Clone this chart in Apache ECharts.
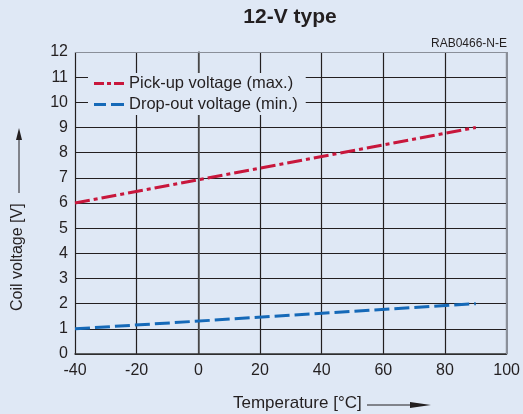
<!DOCTYPE html>
<html><head><meta charset="utf-8">
<script src="https://cdn.jsdelivr.net/npm/echarts@6/dist/echarts.min.js"></script>
<style>html,body{margin:0;padding:0;background:#dfe8f5}#c{width:523px;height:414px}</style>
</head><body><div id="c"></div>
<script>
const temps = [-40, 90];
const pickUp = [6, 9];
const dropOut = [1, 2];
const xTicks = [-40, -20, 0, 20, 40, 60, 80, 100];
const yTicks = [0,1,2,3,4,5,6,7,8,9,10,11,12];
const seriesNames = ['Pick-up voltage (max.)', 'Drop-out voltage (min.)'];

const FONT = 'Liberation Sans, Arial, sans-serif';
const BG = '#dfe8f5';
const RED = '#c8173c', BLUE = '#1569b8';
const chart = echarts.init(document.getElementById('c'), null, {renderer: 'canvas'});
chart.setOption({
  backgroundColor: BG,
  animation: false,
  textStyle: {fontFamily: FONT},
  title: [{
    text: '12-V type', left: 290, top: 7, textAlign: 'center', padding: 0,
    textStyle: {fontSize: 21, fontWeight: 'bold', color: '#231f20', fontFamily: FONT}
  }, {
    text: 'RAB0466-N-E', right: 16, top: 38, padding: 0,
    textStyle: {fontSize: 12, fontWeight: 'normal', color: '#231f20', fontFamily: FONT}
  }],
  grid: {left: 75, right: 16, top: 52, bottom: 60},
  legend: {
    left: 88, top: 73, orient: 'vertical', itemGap: 4,
    backgroundColor: BG, padding: [2, 8, 2, 6],
    itemWidth: 30, itemHeight: 3,
    textStyle: {fontSize: 16.5, color: '#231f20', fontFamily: FONT},
    data: [
      {name: seriesNames[0], icon: 'path://M0,0h10v3h-10z M13,0h4v3h-4z M20,0h10v3h-10z', itemStyle: {color: RED}},
      {name: seriesNames[1], icon: 'path://M0,0h12v3h-12z M17,0h13v3h-13z', itemStyle: {color: BLUE}}
    ]
  },
  xAxis: {
    type: 'value', min: -40, max: 100, interval: 20,
    axisLine: {lineStyle: {color: '#333', width: 1.5}},
    axisTick: {show: false},
    axisLabel: {fontSize: 16, color: '#231f20', margin: 9, fontFamily: FONT,
      formatter: v => xTicks.includes(v) ? String(v) : ''},
    splitLine: {show: true, lineStyle: {color: '#231f20', width: 1.2}}
  },
  yAxis: {
    type: 'value', min: 0, max: 12, interval: 1,
    axisLine: {show: true, lineStyle: {color: '#555', width: 1.5}},
    axisTick: {show: false},
    axisLabel: {fontSize: 16, color: '#231f20', margin: 7, fontFamily: FONT,
      formatter: v => yTicks.includes(v) ? String(v) : ''},
    splitLine: {show: true, lineStyle: {color: '#231f20', width: 1.2}}
  },
  series: [{
    name: seriesNames[0], type: 'line', symbol: 'none', z: 5,
    data: temps.map((t, i) => [t, pickUp[i]]),
    lineStyle: {color: RED, width: 3, type: [15, 4, 4, 4]},
    itemStyle: {color: RED}
  }, {
    name: seriesNames[1], type: 'line', symbol: 'none', z: 5,
    data: temps.map((t, i) => [t, dropOut[i]]),
    lineStyle: {color: BLUE, width: 3, type: [15, 5]},
    itemStyle: {color: BLUE}
  }],
  graphic: [
    {type: 'rect', left: 75, top: 52, shape: {width: 432, height: 1}, style: {fill: '#8a8f99'}, z: 10},
    {type: 'rect', left: 506, top: 52, shape: {width: 2, height: 302}, style: {fill: '#8a8f99'}, z: 10},
    {type: 'text', x: 233, y: 395, style: {text: 'Temperature [°C]', fontSize: 17, fill: '#231f20', fontFamily: FONT}},
    {type: 'line', shape: {x1: 367, y1: 405, x2: 420, y2: 405}, style: {stroke: '#231f20', lineWidth: 1}},
    {type: 'polygon', shape: {points: [[410, 402], [431, 405], [410, 408]]}, style: {fill: '#231f20'}},
    {type: 'text', x: 10, y: 311, rotation: Math.PI / 2, style: {text: 'Coil voltage [V]', fontSize: 16, fill: '#231f20', fontFamily: FONT}},
    {type: 'line', shape: {x1: 19, y1: 193, x2: 19, y2: 140}, style: {stroke: '#231f20', lineWidth: 1}},
    {type: 'polygon', shape: {points: [[16, 140], [19, 128], [22, 140]]}, style: {fill: '#231f20'}}
  ]
});
</script>
</body></html>
